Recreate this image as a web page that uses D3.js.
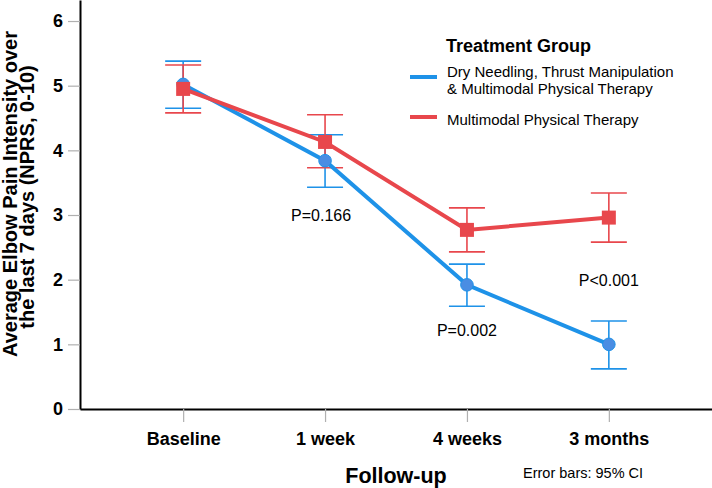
<!DOCTYPE html>
<html>
<head>
<meta charset="utf-8">
<script src="https://cdn.jsdelivr.net/npm/d3@7"></script>
<style>
  body { margin: 0; background: #fff; }
  svg { display: block; font-family: "Liberation Sans", Arial, sans-serif; }
</style>
</head>
<body>
<svg id="chart"></svg>
<script>
const width = 712;
const height = 488;

const timepoints = ['Baseline', '1 week', '4 weeks', '3 months'];

// Dry Needling, Thrust Manipulation & Multimodal PT
const dnMean = [5.02, 3.84, 1.92, 1.00];
const dnLow = [4.65, 3.43, 1.59, 0.62];
const dnHigh = [5.38, 4.24, 2.24, 1.36];

// Multimodal Physical Therapy
const mptMean = [4.95, 4.13, 2.77, 2.96];
const mptLow = [4.58, 3.73, 2.43, 2.58];
const mptHigh = [5.32, 4.55, 3.11, 3.34];

const yTicks = [0, 1, 2, 3, 4, 5, 6];

const pLabels = ['P=0.166', 'P=0.002', 'P<0.001'];
const pAt = ['1 week', '4 weeks', '3 months'];
const pLevel = [3.0, 1.22, 1.99];

const blue = '#1e92e8';
const blueFill = '#4a8de3';
const red = '#e8474c';

const svg = d3.select('#chart')
  .attr('width', width)
  .attr('height', height);

const x = d3.scalePoint()
  .domain(timepoints)
  .range([80, 712])
  .padding(0.727);

const y = d3.scaleLinear()
  .domain([0, 6.325])
  .range([409, 0]);

// axes
const yAxis = svg.append('g')
  .attr('transform', 'translate(80,0)')
  .call(d3.axisLeft(y).tickValues(yTicks).tickFormat(d3.format('d')).tickSize(12).tickSizeOuter(0).tickPadding(5));

const xAxis = svg.append('g')
  .attr('transform', 'translate(0,409)')
  .call(d3.axisBottom(x).tickSize(13).tickSizeOuter(0).tickPadding(10));

[yAxis, xAxis].forEach(function(g) {
  g.select('.domain').attr('stroke', '#000').attr('stroke-width', 2);
  g.selectAll('.tick line').attr('stroke', '#b0b0b0').attr('stroke-width', 1.2);
  g.selectAll('.tick text')
    .attr('fill', '#000')
    .style('font-family', '"Liberation Sans", Arial, sans-serif')
    .style('font-size', '18px')
    .style('font-weight', 'bold');
});

const series = [
  { mean: dnMean, low: dnLow, high: dnHigh, color: blue, marker: 'circle' },
  { mean: mptMean, low: mptLow, high: mptHigh, color: red, marker: 'square' }
];

// error bars
series.forEach(function(s) {
  const g = svg.append('g').attr('stroke', s.color).attr('stroke-width', 1.6);
  timepoints.forEach(function(t, i) {
    g.append('line')
      .attr('x1', x(t)).attr('x2', x(t))
      .attr('y1', y(s.low[i])).attr('y2', y(s.high[i]));
    [s.low[i], s.high[i]].forEach(function(v) {
      g.append('line')
        .attr('x1', x(t) - 18).attr('x2', x(t) + 18)
        .attr('y1', y(v)).attr('y2', y(v));
    });
  });
});

// lines
const line = d3.line()
  .x(function(d, i) { return x(timepoints[i]); })
  .y(function(d) { return y(d); });

series.forEach(function(s) {
  svg.append('path')
    .datum(s.mean)
    .attr('fill', 'none')
    .attr('stroke', s.color)
    .attr('stroke-width', 4)
    .attr('d', line);
});

// markers
svg.selectAll('circle.dn')
  .data(dnMean)
  .enter()
  .append('circle')
  .attr('class', 'dn')
  .attr('cx', function(d, i) { return x(timepoints[i]); })
  .attr('cy', function(d) { return y(d); })
  .attr('r', 6.3)
  .attr('fill', blueFill)
  .attr('stroke', blue)
  .attr('stroke-width', 1);

svg.selectAll('rect.mpt')
  .data(mptMean)
  .enter()
  .append('rect')
  .attr('class', 'mpt')
  .attr('x', function(d, i) { return x(timepoints[i]) - 7; })
  .attr('y', function(d) { return y(d) - 7; })
  .attr('width', 14)
  .attr('height', 14)
  .attr('fill', red);

// p-value annotations
svg.selectAll('text.pval')
  .data(pLabels)
  .enter()
  .append('text')
  .attr('class', 'pval')
  .attr('x', function(d, i) { return x(pAt[i]) + (i === 0 ? -4 : 0); })
  .attr('y', function(d, i) { return y(pLevel[i]); })
  .attr('dy', '0.35em')
  .attr('text-anchor', 'middle')
  .style('font-size', '16px')
  .text(function(d) { return d; });

// legend
const legend = svg.append('g');
legend.append('text')
  .attr('x', 446).attr('y', 51.5)
  .style('font-size', '18px').style('font-weight', 'bold')
  .text('Treatment Group');
legend.append('line')
  .attr('x1', 410).attr('x2', 437).attr('y1', 77).attr('y2', 77)
  .attr('stroke', blue).attr('stroke-width', 4);
legend.append('text')
  .attr('x', 447).attr('y', 76.5)
  .style('font-size', '15px')
  .text('Dry Needling, Thrust Manipulation');
legend.append('text')
  .attr('x', 447).attr('y', 93.5)
  .style('font-size', '15px')
  .text('& Multimodal Physical Therapy');
legend.append('line')
  .attr('x1', 410).attr('x2', 437).attr('y1', 117).attr('y2', 117)
  .attr('stroke', red).attr('stroke-width', 4);
legend.append('text')
  .attr('x', 447).attr('y', 124.5)
  .style('font-size', '15px')
  .text('Multimodal Physical Therapy');

// axis titles
svg.append('text')
  .attr('transform', 'translate(17,194) rotate(-90)')
  .attr('text-anchor', 'middle')
  .style('font-size', '20px').style('font-weight', 'bold')
  .text('Average Elbow Pain Intensity over');
svg.append('text')
  .attr('transform', 'translate(34,197) rotate(-90)')
  .attr('text-anchor', 'middle')
  .style('font-size', '20px').style('font-weight', 'bold')
  .text('the last 7 days (NPRS, 0-10)');

svg.append('text')
  .attr('x', 396).attr('y', 475)
  .attr('dy', '0.35em')
  .attr('text-anchor', 'middle')
  .style('font-size', '21.5px').style('font-weight', 'bold')
  .text('Follow-up');

svg.append('text')
  .attr('x', 523).attr('y', 473)
  .attr('dy', '0.35em')
  .style('font-size', '14.5px')
  .text('Error bars: 95% CI');
</script>
</body>
</html>
